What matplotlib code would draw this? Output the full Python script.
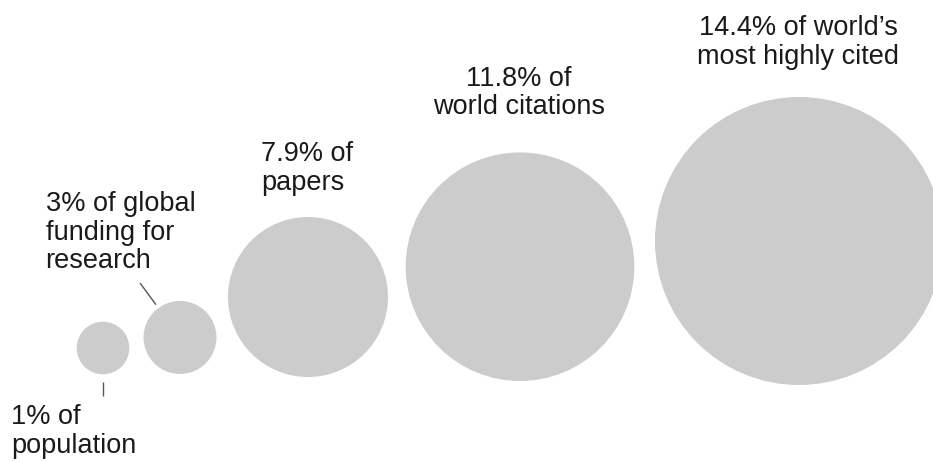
import matplotlib.pyplot as plt
from matplotlib.patches import Circle

plt.rcParams['font.family'] = ['Liberation Sans', 'DejaVu Sans']

# data
labels = ["1% of\npopulation",
          "3% of global\nfunding for\nresearch",
          "7.9% of\npapers",
          "11.8% of\nworld citations",
          "14.4% of world\u2019s\nmost highly cited"]
shares = [1.0, 3.0, 7.9, 11.8, 14.4]
radii = [26.3, 36.5, 80.0, 114.3, 144.0]   # circle size as drawn (px)

# layout (pixel coords, y downwards)
cx = [103, 180, 308, 520, 799]
cy = [348, 337.5, 297, 266.7, 241]
label_x = [11, 45.5, 261, 519, 798]
label_y = [424.5, 211, 161, 85.7, 35]   # baseline of the first line
label_ha = ['left', 'left', 'left', 'center', 'center']
line_step = 28.7
leaders = [((103, 103), (382, 396)), ((140, 156), (283, 304.7))]

W, H = 933, 462
fig = plt.figure(figsize=(W / 100, H / 100), dpi=100)
ax = fig.add_axes([0, 0, 1, 1])
ax.set_xlim(0, W)
ax.set_ylim(H, 0)
ax.set_aspect('equal')
ax.axis('off')

for x, y, r in zip(cx, cy, radii):
    ax.add_patch(Circle((x, y), r, facecolor='#cccccc', edgecolor='none'))

for lab, x, y, ha in zip(labels, label_x, label_y, label_ha):
    for i, line in enumerate(lab.split('\n')):
        ax.text(x, y + i * line_step, line, fontsize=19.5, color='#1a1a1a',
                ha=ha, va='baseline')

for xs, ys in leaders:
    ax.plot(xs, ys, color='#555555', lw=1.0, solid_capstyle='butt')

fig.savefig('out.png', dpi=100, facecolor='white')
